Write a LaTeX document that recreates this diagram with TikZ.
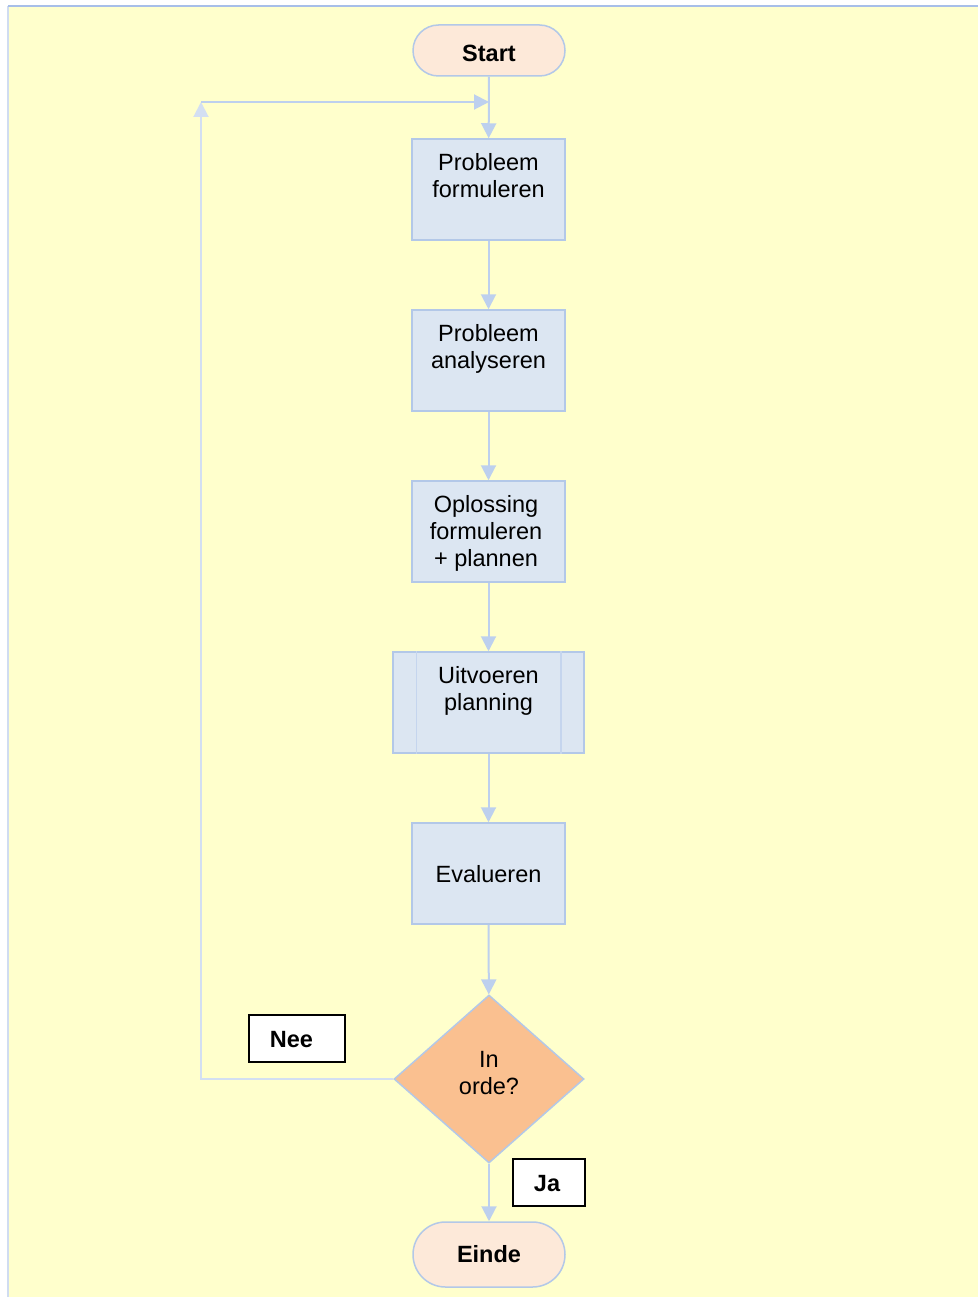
\documentclass[tikz,border=0pt]{standalone}
\usepackage{fontspec}
\setmainfont{Liberation Sans}
\usetikzlibrary{arrows.meta,shapes.geometric,shapes.misc}
\definecolor{bgy}{HTML}{FFFFCC}
\definecolor{frameb}{HTML}{A7BEE8}
\definecolor{framel}{HTML}{D0DCF0}
\definecolor{boxf}{HTML}{DCE6F2}
\definecolor{boxb}{HTML}{B3C8E8}
\definecolor{boxl}{HTML}{C5D5EE}
\definecolor{termf}{HTML}{FDE9D9}
\definecolor{decf}{HTML}{FAC090}
\definecolor{conn}{HTML}{BDD0EE}
\definecolor{connl}{HTML}{D3DFF2}
\begin{document}
\begin{tikzpicture}[x=1pt,y=-1pt,
  proc/.style={draw=boxb, fill=boxf, line width=1.5pt, minimum width=153pt, minimum height=101pt, inner sep=0pt},
  term/.style={rounded rectangle, draw=boxb, fill=termf, line width=1.5pt, minimum width=152pt, inner sep=0pt},
  dec/.style={diamond, draw=boxb, fill=decf, line width=1.5pt, minimum width=190pt, minimum height=168pt, inner sep=0pt},
  txt/.style={align=center, inner sep=0pt, anchor=north, font=\fontsize{23.5}{27}\selectfont},
  btxt/.style={inner sep=0pt, font=\fontsize{23.5}{27}\selectfont\bfseries},
  lab/.style={draw=black, fill=white, line width=1.5pt, minimum height=47pt, inner sep=0pt},
  cn/.style={draw=conn, line width=2pt, -{Triangle[width=15pt,length=15pt]}},
  cnl/.style={draw=connl, line width=2pt, -{Triangle[width=15pt,length=15pt]}}
]
\useasboundingbox (0,0) rectangle (978,1297);
\fill[white] (0,0) rectangle (978,1297);
\fill[bgy] (8,6) rectangle (978,1297);
\draw[framel, line width=2pt] (8,1297) -- (8,6);
\draw[frameb, line width=2pt] (8,6) -- (978,6);

% terminators
\node[term, minimum height=51pt] (start) at (489,50.5) {};
\node[btxt, anchor=base] (tstart) at (489,62) {Start};
\node[term, minimum height=65pt] (einde) at (489,1254.5) {};
\node[btxt, anchor=base] (teinde) at (489,1262) {Einde};

% process boxes
\node[proc] (p1) at (488.5,189.5) {};
\node[txt] (t1) at (488.5,153) {Probleem\\formuleren};
\node[proc] (p2) at (488.5,360.5) {};
\node[txt] (t2) at (488.5,324) {Probleem\\analyseren};
\node[proc] (p3) at (488.5,531.5) {};
\node[txt] (t3) at (486,495) {Oplossing\\formuleren\\+ plannen};
\node[proc, minimum width=191pt] (p4) at (488.5,702.5) {};
\draw[boxl, line width=1.5pt] ([xshift=24pt]p4.north west) -- ([xshift=24pt]p4.south west);
\draw[boxl, line width=1.5pt] ([xshift=-24pt]p4.north east) -- ([xshift=-24pt]p4.south east);
\node[txt] (t4) at (488.5,666) {Uitvoeren\\planning};
\node[proc] (p5) at (488.5,873.5) {};
\node[txt] (t5) at (488.5,865) {Evalueren};

% decision
\node[dec] (d) at (489,1079) {};
\node[txt] (td) at (489,1051) {In\\orde?};

% labels
\node[lab, minimum width=96pt] (nee) at (297,1038.5) {};
\node[btxt, anchor=base] (tnee) at (291.5,1047) {Nee};
\node[lab, minimum width=72pt] (ja) at (549,1182.5) {};
\node[btxt, anchor=base] (tja) at (547,1191) {Ja};

% connectors
\coordinate (lp) at (201,1079);
\coordinate (lt) at (201,102);
\coordinate (lj) at (489,102);
\draw[cn] (start) -- (p1);
\draw[cn] (p1) -- (p2);
\draw[cn] (p2) -- (p3);
\draw[cn] (p3) -- (p4);
\draw[cn] (p4) -- (p5);
\draw[cn] (p5) -- (d);
\draw[cn] (d) -- (einde);
\draw[cnl] (d.west) -- (lp) -- (lt);
\draw[cn] (lt) -- (lj);
\end{tikzpicture}
\end{document}
